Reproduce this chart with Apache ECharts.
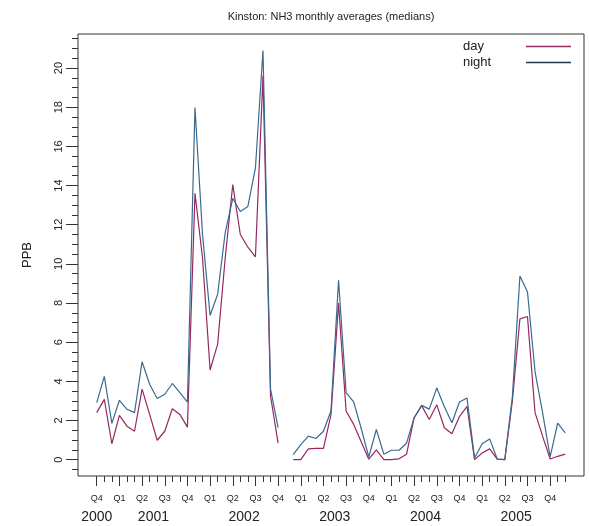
<!DOCTYPE html>
<html>
<head>
<meta charset="utf-8">
<script src="https://cdn.jsdelivr.net/npm/echarts@6/dist/echarts.min.js"></script>
<style>
html, body { margin: 0; padding: 0; background: #fff; }
#main { width: 589px; height: 526px; }
</style>
</head>
<body>
<div id="main"></div>
<script>
// month index: 0 = Oct 2000 ... 62 = Dec 2005 (Nov 2002 has no value)
var day = [
  2.40, 3.08, 0.81, 2.26, 1.71, 1.45, 3.60, 2.31, 0.99, 1.45, 2.60, 2.31, 1.66,
  13.6, 10.3, 4.58, 5.90, 10.3, 14.05, 11.5, 10.85, 10.36, 19.6, 3.25, 0.84,
  null,
  0.0, 0.0, 0.55, 0.58, 0.58, 2.3, 8.0, 2.48, 1.8, 0.91, 0.02, 0.5, 0.0, 0.0, 0.04, 0.28,
  2.14, 2.76, 2.05, 2.8, 1.63, 1.32, 2.2, 2.72, 0.0, 0.34, 0.55, 0.03, 0.0,
  3.0, 7.19, 7.31, 2.4, 1.2, 0.03, 0.17, 0.28
];
var night = [
  2.91, 4.25, 1.85, 3.03, 2.57, 2.40, 5.00, 3.85, 3.12, 3.34, 3.89, 3.42, 2.94,
  17.98, 11.5, 7.36, 8.45, 11.6, 13.35, 12.67, 12.93, 14.9, 20.9, 3.6, 1.63,
  null,
  0.26, 0.77, 1.2, 1.08, 1.45, 2.5, 9.16, 3.42, 2.95, 1.59, 0.14, 1.54, 0.27, 0.48, 0.48, 0.84,
  2.14, 2.77, 2.58, 3.66, 2.7, 1.88, 2.94, 3.15, 0.08, 0.81, 1.06, 0.03, 0.0,
  3.2, 9.38, 8.56, 4.5, 2.4, 0.14, 1.86, 1.37
];

var quarterPos = [0, 3, 6, 9, 12, 15, 18, 21, 24, 27, 30, 33, 36, 39, 42, 45, 48, 51, 54, 57, 60];
var quarterLabels = ['Q4', 'Q1', 'Q2', 'Q3', 'Q4', 'Q1', 'Q2', 'Q3', 'Q4', 'Q1', 'Q2',
                     'Q3', 'Q4', 'Q1', 'Q2', 'Q3', 'Q4', 'Q1', 'Q2', 'Q3', 'Q4'];
var yearPos = [0, 7.5, 19.5, 31.5, 43.5, 55.5];
var yearLabels = ['2000', '2001', '2002', '2003', '2004', '2005'];
var yMajor = [0, 2, 4, 6, 8, 10, 12, 14, 16, 18, 20];

var monthTicks = [];
for (let i = 0; i < day.length; i++) monthTicks.push(i);
var yMinor = [];
for (let v = -0.5; v <= 21.5; v += 0.5) yMinor.push(v);

var FONT = "'Liberation Sans', Arial, sans-serif";
var INK = '#222';
var DAY_COLOR = '#96285f';
var NIGHT_COLOR = '#3a6a90';
var X_MIN = -2.48, X_MAX = 64.48;
var Y_MIN = -0.836, Y_MAX = 21.74;

var myChart = echarts.init(document.getElementById('main'));

function xAx(extra) {
  return Object.assign({
    type: 'value', min: X_MIN, max: X_MAX, position: 'bottom',
    axisLine: { show: false, onZero: false }, splitLine: { show: false }
  }, extra);
}
function yAx(extra) {
  return Object.assign({
    type: 'value', min: Y_MIN, max: Y_MAX, position: 'left',
    axisLine: { show: false, onZero: false }, splitLine: { show: false }
  }, extra);
}

var option = {
  animation: false,
  backgroundColor: '#fff',
  title: {
    text: 'Kinston: NH3 monthly averages (medians)',
    left: 331, top: 11, textAlign: 'center', padding: 0,
    textStyle: { fontFamily: FONT, fontSize: 11, fontWeight: 'normal', color: INK }
  },
  legend: {
    orient: 'vertical', right: 18, top: 40, align: 'right', padding: 0,
    itemWidth: 45, itemHeight: 1.5, itemGap: 3, icon: 'rect',
    data: [
      { name: 'day', itemStyle: { color: DAY_COLOR, borderWidth: 0 } },
      { name: 'night', itemStyle: { color: '#1f3550', borderWidth: 0 } }
    ],
    formatter: function (n) { return '{t|' + n + '}'; },
    textStyle: {
      fontFamily: FONT, fontSize: 13, color: INK,
      rich: { t: { width: 58, align: 'left', lineHeight: 16, fontSize: 13, fontFamily: FONT, color: INK } }
    }
  },
  grid: {
    left: 78, top: 34, width: 506, height: 442,
    show: true, borderColor: '#333', borderWidth: 1, backgroundColor: '#fff'
  },
  xAxis: [
    xAx({
      axisLabel: { show: false },
      axisTick: { show: true, customValues: monthTicks, length: 6, lineStyle: { color: '#333' } }
    }),
    xAx({
      axisTick: { show: true, customValues: quarterPos, length: 10, lineStyle: { color: '#333' } },
      axisLabel: {
        customValues: quarterPos, margin: 18, fontSize: 9, fontFamily: FONT, color: INK,
        formatter: function (v) { return quarterLabels[quarterPos.indexOf(v)]; }
      }
    }),
    xAx({
      axisTick: { show: false },
      axisLabel: {
        customValues: yearPos, margin: 34, fontSize: 14, fontFamily: FONT, color: INK,
        formatter: function (v) { return yearLabels[yearPos.indexOf(v)]; }
      }
    })
  ],
  yAxis: [
    yAx({
      axisLabel: { show: false },
      axisTick: { show: true, customValues: yMinor, length: 6, lineStyle: { color: '#333' } },
      name: 'PPB', nameLocation: 'middle', nameGap: 44, nameRotate: 90,
      nameTextStyle: { fontFamily: FONT, fontSize: 13, color: INK }
    }),
    yAx({
      axisTick: { show: true, customValues: yMajor, length: 12, lineStyle: { color: '#333' } },
      axisLabel: {
        customValues: yMajor, rotate: 90, margin: 14, fontSize: 11, fontFamily: FONT, color: INK
      }
    })
  ],
  series: [
    {
      name: 'day', type: 'line', xAxisIndex: 0, yAxisIndex: 0,
      data: day.map(function (v, i) { return [i, v]; }),
      symbol: 'none', connectNulls: false,
      lineStyle: { color: DAY_COLOR, width: 1.2 }, itemStyle: { color: DAY_COLOR }
    },
    {
      name: 'night', type: 'line', xAxisIndex: 0, yAxisIndex: 0,
      data: night.map(function (v, i) { return [i, v]; }),
      symbol: 'none', connectNulls: false,
      lineStyle: { color: NIGHT_COLOR, width: 1.2 }, itemStyle: { color: NIGHT_COLOR }
    }
  ]
};

myChart.setOption(option);
</script>
</body>
</html>
